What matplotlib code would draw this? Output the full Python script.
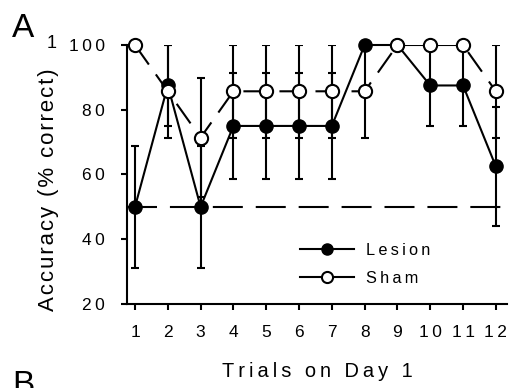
import matplotlib
matplotlib.use("Agg")
from matplotlib import pyplot as plt
from matplotlib.lines import Line2D

plt.rcParams['font.family'] = ['Liberation Sans', 'DejaVu Sans']

# data
trials = [1, 2, 3, 4, 5, 6, 7, 8, 9, 10, 11, 12]
lesion = [50, 87.5, 50, 75, 75, 75, 75, 100, 100, 87.5, 87.5, 62.5]
lesion_err = [18.9, 12.5, 18.9, 16.4, 16.4, 16.4, 16.4, 0, 0, 12.5, 12.5, 18.3]
sham = [100, 85.7, 71.4, 85.7, 85.7, 85.7, 85.7, 85.7, 100, 100, 100, 85.7]
sham_err = [0, 14.3, 18.4, 14.3, 14.3, 14.3, 14.3, 14.3, 0, 0, 0, 14.3]
chance = 50
yticks = [20, 40, 60, 80, 100]
labels = ["Lesion", "Sham"]


# the original text is letter-spaced, thin spaces stand in for that
def spaced(s, gap="\u2009"):
    return gap.join(s)


W, H = 511, 388
fig = plt.figure(figsize=(W / 100, H / 100), dpi=100)
ax = fig.add_axes([127 / W, 1 - 304 / H, 380 / W, 259 / H])

# chance line
ax.plot([0.76, 12.28], [chance, chance], color="black", lw=1.5,
        dashes=(14.4, 6.2), zorder=1)

# lesion
ax.errorbar(trials, lesion, yerr=lesion_err, fmt="none", ecolor="black",
            elinewidth=1.5, capsize=3, capthick=1.5, zorder=2)
ax.plot(trials, lesion, color="black", lw=1.5, marker="o", markersize=9.5,
        markerfacecolor="black", markeredgecolor="black", zorder=3, clip_on=False)

# sham
ax.errorbar(trials, sham, yerr=sham_err, fmt="none", ecolor="black",
            elinewidth=1.5, capsize=3, capthick=1.5, zorder=4)
ax.plot(trials, sham, color="black", lw=1.5, dashes=(11.5, 5.8), zorder=5)
ax.plot(trials, sham, linestyle="none", marker="o", markersize=9.5,
        markerfacecolor="white", markeredgecolor="black", markeredgewidth=1.5,
        zorder=6, clip_on=False)

ax.set_xlim(0.756, 12.34)
ax.set_ylim(20, 100)
ax.set_xticks(trials)
ax.set_xticklabels([spaced(str(t)) for t in trials])
ax.set_yticks(yticks)
ax.set_yticklabels([spaced(str(t)) for t in yticks])
ax.tick_params(direction="out", length=4, width=1.5, labelsize=12.5)
ax.tick_params(axis="x", pad=11)
ax.tick_params(axis="y", pad=12)
for s in ["top", "right"]:
    ax.spines[s].set_visible(False)
for s in ["left", "bottom"]:
    ax.spines[s].set_linewidth(1.5)

ax.set_xlabel(spaced("Trials on Day 1"), fontsize=14.4, labelpad=16)
fig.text(49 / W, 1 - 190 / H, spaced("Accuracy (% correct)", "\u200a"),
         rotation=90, ha="center", va="center", fontsize=16)
fig.text(52 / W, 1 - 43.5 / H, "1", ha="center", va="center", fontsize=13)

handles = [
    Line2D([], [], color="black", lw=1.5, marker="o", markersize=8,
           markerfacecolor="black"),
    Line2D([], [], color="black", lw=1.5, marker="o", markersize=8,
           markerfacecolor="white", markeredgewidth=1.5),
]
ax.legend(handles, [spaced(l) for l in labels], loc="upper left",
          bbox_to_anchor=(300 / W, 1 - 243 / H), bbox_transform=fig.transFigure,
          frameon=False, borderpad=0, borderaxespad=0, handlelength=3.3,
          handletextpad=0.75, labelspacing=0.8, fontsize=11.7)

fig.text(12 / W, 1 - 37 / H, "A", ha="left", va="baseline", fontsize=24)
fig.text(12 / W, 1 - 394 / H, "B", ha="left", va="baseline", fontsize=24)

fig.savefig("out.png", dpi=100)
